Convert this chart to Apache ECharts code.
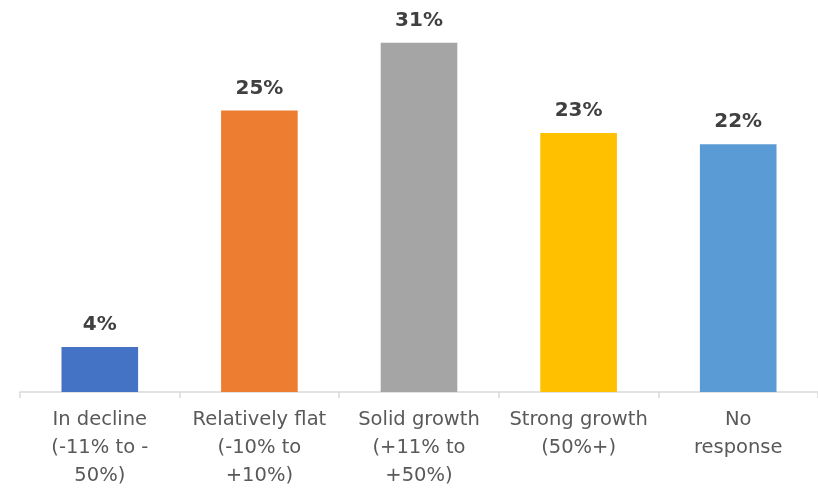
<!DOCTYPE html>
<html>
<head>
<meta charset="utf-8">
<script src="https://cdn.jsdelivr.net/npm/echarts@6/dist/echarts.min.js"></script>
<style>
  html, body { margin: 0; padding: 0; background: #ffffff; }
  #chart { width: 818px; height: 490px; }
</style>
</head>
<body>
<div id="chart"></div>
<script>
// Survey responses: expected revenue outlook
const categories = [
  'In decline\n(-11% to -\n50%)',
  'Relatively flat\n(-10% to\n+10%)',
  'Solid growth\n(+11% to\n+50%)',
  'Strong growth\n(50%+)',
  'No\nresponse'
];
const shares = [4, 25, 31, 23, 22];
const barColors = ['#4472C4', '#ED7D31', '#A5A5A5', '#FFC000', '#5B9BD5'];

const chart = echarts.init(document.getElementById('chart'), null, { renderer: 'canvas' });

chart.setOption({
  animation: false,
  backgroundColor: '#ffffff',
  grid: { left: 20, right: -2, top: 0, bottom: 98, containLabel: false },
  xAxis: {
    type: 'category',
    data: categories,
    axisLine: { show: true, lineStyle: { color: '#D9D9D9', width: 1.5 } },
    axisTick: { show: true, length: 6, alignWithLabel: false, lineStyle: { color: '#D9D9D9', width: 1.5 } },
    axisLabel: {
      interval: 0,
      margin: 14,
      color: '#595959',
      fontFamily: 'DejaVu Sans',
      fontSize: 19.5,
      lineHeight: 28
    }
  },
  yAxis: {
    type: 'value',
    min: 0,
    max: 34.8,
    show: false,
    splitLine: { show: false }
  },
  series: [{
    type: 'bar',
    barWidth: '48%',
    data: shares.map((v, i) => ({ value: v, itemStyle: { color: barColors[i] } })),
    label: {
      show: true,
      position: 'top',
      distance: 12,
      formatter: '{c}%',
      color: '#404040',
      fontFamily: 'DejaVu Sans',
      fontWeight: 'bold',
      fontSize: 20
    }
  }]
});
</script>
</body>
</html>
